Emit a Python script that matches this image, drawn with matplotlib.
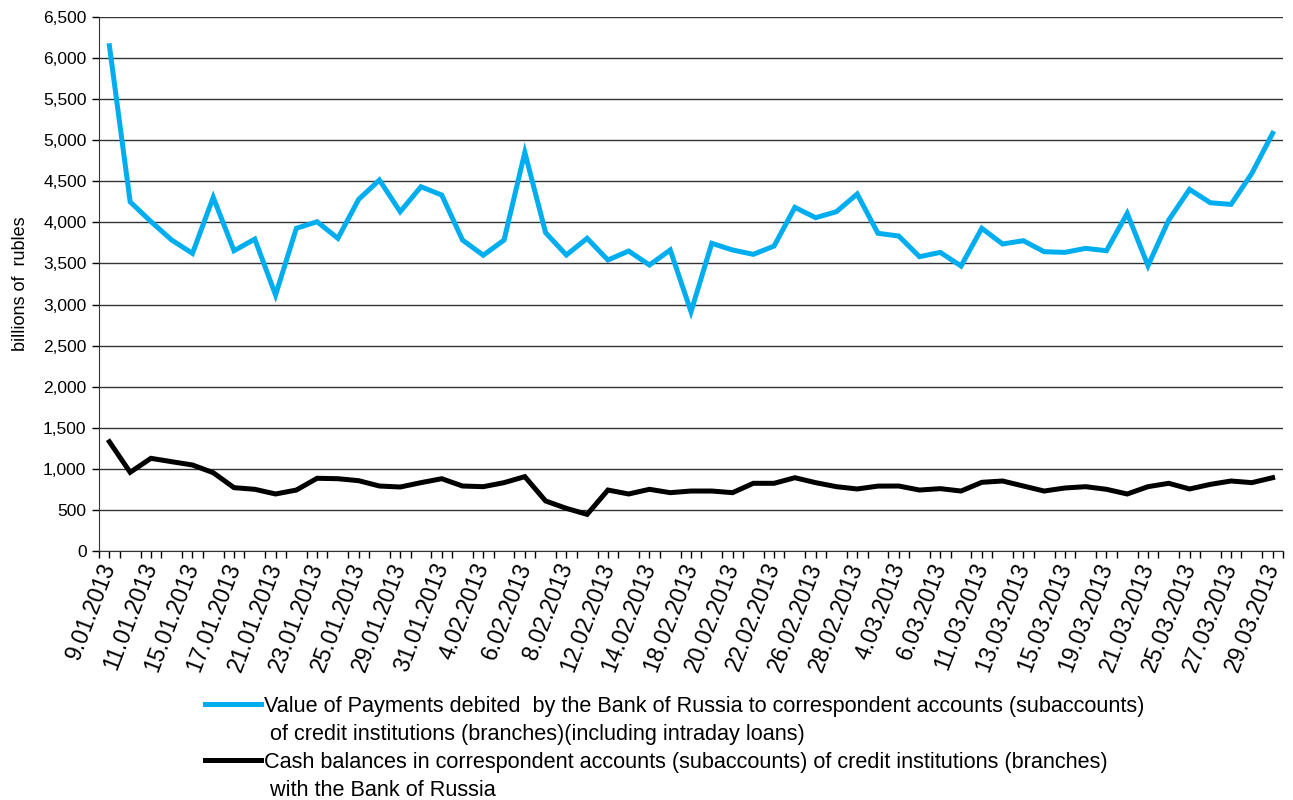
import numpy as np
import matplotlib
matplotlib.use("Agg")
import matplotlib.pyplot as plt
from matplotlib.lines import Line2D
from matplotlib.ticker import FuncFormatter

# business days, Jan-Mar 2013
dates = ["9.01.2013", "10.01.2013", "11.01.2013", "14.01.2013", "15.01.2013", "16.01.2013",
         "17.01.2013", "18.01.2013", "21.01.2013", "22.01.2013", "23.01.2013", "24.01.2013",
         "25.01.2013", "28.01.2013", "29.01.2013", "30.01.2013", "31.01.2013", "1.02.2013",
         "4.02.2013", "5.02.2013", "6.02.2013", "7.02.2013", "8.02.2013", "11.02.2013",
         "12.02.2013", "13.02.2013", "14.02.2013", "15.02.2013", "18.02.2013", "19.02.2013",
         "20.02.2013", "21.02.2013", "22.02.2013", "25.02.2013", "26.02.2013", "27.02.2013",
         "28.02.2013", "1.03.2013", "4.03.2013", "5.03.2013", "6.03.2013", "7.03.2013",
         "11.03.2013", "12.03.2013", "13.03.2013", "14.03.2013", "15.03.2013", "18.03.2013",
         "19.03.2013", "20.03.2013", "21.03.2013", "22.03.2013", "25.03.2013", "26.03.2013",
         "27.03.2013", "28.03.2013", "29.03.2013"]

payments = [6150, 4250, 4010, 3785, 3623, 4305, 3655, 3797, 3116, 3928,
            4008, 3806, 4280, 4516, 4130, 4434, 4333, 3785, 3600, 3785,
            4852, 3875, 3603, 3806, 3542, 3651, 3481, 3664, 2913, 3745,
            3664, 3611, 3712, 4183, 4057, 4130, 4345, 3867, 3834, 3582,
            3635, 3469, 3928, 3737, 3777, 3643, 3635, 3684, 3655, 4110,
            3473, 4029, 4402, 4239, 4219, 4597, 5084]

balances = [1330, 958, 1128, 1087, 1047, 953, 771, 751, 694, 742,
            885, 880, 856, 791, 779, 832, 880, 791, 783, 832,
            905, 609, 519, 446, 742, 694, 751, 710, 730, 730,
            710, 824, 824, 892, 832, 783, 755, 790, 791, 742,
            759, 730, 836, 852, 791, 730, 767, 783, 751, 694,
            783, 824, 755, 811, 852, 832, 892]

lab1 = "Value of Payments debited  by the Bank of Russia to correspondent accounts (subaccounts)"
lab1b = " of credit institutions (branches)(including intraday loans)"
lab2 = "Cash balances in correspondent accounts (subaccounts) of credit institutions (branches)"
lab2b = " with the Bank of Russia"

blue = "#00AEEF"
x = np.arange(len(dates))

fig = plt.figure(figsize=(12.93, 8), dpi=100)
ax = fig.add_axes([99/1293, 1-551/800, 1184/1293, 534/800])

ax.plot(x, payments, color=blue, lw=3.6, solid_joinstyle="miter")
ax.plot(x, balances, color="black", lw=3.6, solid_joinstyle="miter")

ax.set_xlim(-0.5, len(dates) - 0.5)
ax.set_ylim(0, 6500)
ax.set_yticks(np.arange(0, 6501, 500))
ax.yaxis.set_major_formatter(FuncFormatter(lambda v, p: f"{int(v):,}"))
ax.grid(axis="y", color="#333333", lw=1.0)
ax.set_axisbelow(True)

ax.set_xticks(x[::2])
ax.set_xticklabels(dates[::2], rotation=69, ha="right", va="center",
                   rotation_mode="anchor", fontsize=16.5, family="Liberation Sans")
ax.set_xticks(np.arange(-0.5, len(dates), 1), minor=True)
ax.tick_params(axis="x", which="both", direction="out", length=5, width=1, pad=4)
ax.tick_params(axis="y", direction="out", length=5, width=1, labelsize=12.5, pad=4)
for t in ax.get_yticklabels():
    t.set_family("Liberation Sans")

for s in ["top", "right"]:
    ax.spines[s].set_visible(False)
ax.spines["left"].set_color("#333333")
ax.spines["bottom"].set_color("#333333")

ax.set_ylabel("billions of  rubles", fontsize=13, family="Liberation Sans", labelpad=10)

handles = [Line2D([], [], color=blue, lw=3.6),
           Line2D([], [], color="none"),
           Line2D([], [], color="black", lw=3.6),
           Line2D([], [], color="none")]
fig.legend(handles, [lab1, lab1b, lab2, lab2b], loc="upper left",
           bbox_to_anchor=(205/1293, 1-696/800), frameon=False,
           borderpad=0, borderaxespad=0,
           handlelength=2.6, handletextpad=0.1, labelspacing=0.32,
           prop={"family": "Liberation Sans", "size": 15.6})

fig.savefig("out.png", dpi=100)
